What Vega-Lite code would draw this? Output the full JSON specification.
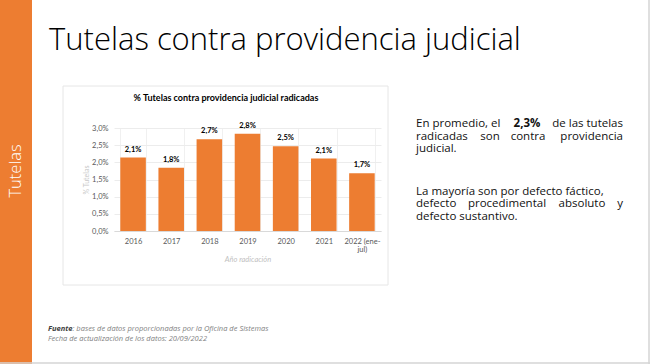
{
  "$schema": "https://vega.github.io/schema/vega-lite/v6.json",
  "width": 267,
  "height": 103,
  "autosize": {"type": "none"},
  "padding": {"left": 114, "top": 128, "right": 269, "bottom": 133},
  "background": "white",
  "config": {
    "view": {"stroke": null},
    "font": "Lato",
    "axisX": {
      "titleFontStyle": "italic", "titleFontWeight": "normal", "titleColor": "#bfbfbf", "titleFontSize": 7.5, "titlePadding": 3,
      "labelAngle": 0, "labelFontSize": 7.5, "labelColor": "#595959", "labelPadding": 6, "labelLineHeight": 8,
      "ticks": false, "domainColor": "#d9d9d9", "grid": true, "gridColor": "#f0f0f0", "tickBand": "extent"
    },
    "axisY": {
      "titleFontWeight": "normal", "titleColor": "#c8c8c8", "titleFontSize": 7, "titlePadding": 2,
      "labelOverlap": false, "labelFontSize": 7.5, "labelColor": "#595959", "labelPadding": 6,
      "ticks": false, "domain": false, "grid": true, "gridColor": "#ececec"
    }
  },
  "datasets": {
    "tutelas": [
      {"anio": "2016", "pct": 2.14, "label": "2,1%"},
      {"anio": "2017", "pct": 1.84, "label": "1,8%"},
      {"anio": "2018", "pct": 2.67, "label": "2,7%"},
      {"anio": "2019", "pct": 2.83, "label": "2,8%"},
      {"anio": "2020", "pct": 2.47, "label": "2,5%"},
      {"anio": "2021", "pct": 2.11, "label": "2,1%"},
      {"anio": "2022 (ene-jul)", "pct": 1.68, "label": "1,7%"}
    ],
    "one": [{}]
  },
  "layer": [
    {
      "data": {"name": "one"},
      "mark": {"type": "rect", "color": "#ED7D31", "clip": false},
      "encoding": {"x": {"value": -114}, "x2": {"value": -82}, "y": {"value": -128}, "y2": {"value": 236}}
    },
    {
      "data": {"name": "one"},
      "mark": {"type": "rule", "color": "#d4d4d4", "strokeWidth": 1.5},
      "encoding": {"x": {"value": 535}, "y": {"value": -128}, "y2": {"value": 236}}
    },
    {
      "data": {"name": "one"},
      "mark": {"type": "rule", "color": "#d4d4d4", "strokeWidth": 1.5},
      "encoding": {"x": {"value": -114}, "x2": {"value": 536}, "y": {"value": 235}}
    },
    {
      "data": {"name": "one"},
      "mark": {"type": "text", "text": "Tutelas", "color": "white", "font": "Open Sans", "fontSize": 16.5, "fontWeight": 300, "angle": 270, "align": "center", "baseline": "middle"},
      "encoding": {"x": {"value": -98}, "y": {"value": 43}}
    },
    {
      "data": {"name": "one"},
      "mark": {"type": "text", "text": "Tutelas contra providencia judicial", "color": "#000000", "font": "Open Sans", "fontSize": 31, "fontWeight": 300, "align": "left", "baseline": "alphabetic"},
      "encoding": {"x": {"value": -65}, "y": {"value": -78}}
    },
    {
      "data": {"name": "one"},
      "mark": {"type": "rect", "filled": false, "stroke": "#e6e6e6", "strokeWidth": 1},
      "encoding": {"x": {"value": -51}, "x2": {"value": 274}, "y": {"value": -42}, "y2": {"value": 157}}
    },
    {
      "data": {"name": "one"},
      "mark": {"type": "text", "text": "% Tutelas contra providencia judicial radicadas", "color": "#000000", "fontSize": 9, "fontWeight": "bold", "align": "center", "baseline": "middle"},
      "encoding": {"x": {"value": 112}, "y": {"value": -30}}
    },
    {
      "data": {"name": "tutelas"},
      "mark": {"type": "bar", "color": "#ED7D31"},
      "encoding": {
        "x": {
          "field": "anio", "type": "nominal", "sort": null,
          "scale": {"paddingInner": 0.33, "paddingOuter": 0.165},
          "axis": {"title": "Año radicación", "labelExpr": "datum.value == '2022 (ene-jul)' ? ['2022 (ene-', 'jul)'] : datum.label"}
        },
        "y": {
          "field": "pct", "type": "quantitative",
          "scale": {"domain": [0, 3], "nice": false},
          "axis": {"title": "% Tutelas", "tickCount": 6, "labelExpr": "replace(format(datum.value, '.1f'), '.', ',') + '%'"}
        }
      }
    },
    {
      "data": {"name": "tutelas"},
      "mark": {"type": "text", "fontSize": 7.5, "fontWeight": "bold", "color": "#000000", "baseline": "alphabetic", "dy": -6},
      "encoding": {
        "x": {
          "field": "anio", "type": "nominal", "sort": null,
          "axis": {"title": "Año radicación", "labelExpr": "datum.value == '2022 (ene-jul)' ? ['2022 (ene-', 'jul)'] : datum.label"}
        },
        "y": {
          "field": "pct", "type": "quantitative",
          "axis": {"title": "% Tutelas", "tickCount": 6, "labelExpr": "replace(format(datum.value, '.1f'), '.', ',') + '%'"}
        },
        "text": {"field": "label"}
      }
    },
    {"data": {"name": "one"}, "mark": {"type": "text", "text": "En promedio, el", "font": "Open Sans", "fontSize": 11.5, "color": "#111111", "align": "left"}, "encoding": {"x": {"value": 302}, "y": {"value": -4}}},
    {"data": {"name": "one"}, "mark": {"type": "text", "text": "2,3%", "font": "Open Sans", "fontSize": 11.5, "fontWeight": "bold", "color": "#111111", "align": "center"}, "encoding": {"x": {"value": 413}, "y": {"value": -4}}},
    {"data": {"name": "one"}, "mark": {"type": "text", "text": "de las tutelas", "font": "Open Sans", "fontSize": 11.5, "color": "#111111", "align": "right"}, "encoding": {"x": {"value": 509}, "y": {"value": -4}}},
    {"data": {"name": "one"}, "mark": {"type": "text", "text": "radicadas", "font": "Open Sans", "fontSize": 11.5, "color": "#111111", "align": "left"}, "encoding": {"x": {"value": 302}, "y": {"value": 9}}},
    {"data": {"name": "one"}, "mark": {"type": "text", "text": "son", "font": "Open Sans", "fontSize": 11.5, "color": "#111111", "align": "center"}, "encoding": {"x": {"value": 376}, "y": {"value": 9}}},
    {"data": {"name": "one"}, "mark": {"type": "text", "text": "contra", "font": "Open Sans", "fontSize": 11.5, "color": "#111111", "align": "center"}, "encoding": {"x": {"value": 414}, "y": {"value": 9}}},
    {"data": {"name": "one"}, "mark": {"type": "text", "text": "providencia", "font": "Open Sans", "fontSize": 11.5, "color": "#111111", "align": "right"}, "encoding": {"x": {"value": 509}, "y": {"value": 9}}},
    {"data": {"name": "one"}, "mark": {"type": "text", "text": "judicial.", "font": "Open Sans", "fontSize": 11.5, "color": "#111111", "align": "left"}, "encoding": {"x": {"value": 302}, "y": {"value": 21}}},
    {"data": {"name": "one"}, "mark": {"type": "text", "text": "La mayoría son por defecto fáctico,", "font": "Open Sans", "fontSize": 11.5, "color": "#111111", "align": "left"}, "encoding": {"x": {"value": 302}, "y": {"value": 64}}},
    {"data": {"name": "one"}, "mark": {"type": "text", "text": "defecto", "font": "Open Sans", "fontSize": 11.5, "color": "#111111", "align": "left"}, "encoding": {"x": {"value": 302}, "y": {"value": 76}}},
    {"data": {"name": "one"}, "mark": {"type": "text", "text": "procedimental", "font": "Open Sans", "fontSize": 11.5, "color": "#111111", "align": "center"}, "encoding": {"x": {"value": 393}, "y": {"value": 76}}},
    {"data": {"name": "one"}, "mark": {"type": "text", "text": "absoluto", "font": "Open Sans", "fontSize": 11.5, "color": "#111111", "align": "center"}, "encoding": {"x": {"value": 468}, "y": {"value": 76}}},
    {"data": {"name": "one"}, "mark": {"type": "text", "text": "y", "font": "Open Sans", "fontSize": 11.5, "color": "#111111", "align": "right"}, "encoding": {"x": {"value": 509}, "y": {"value": 76}}},
    {"data": {"name": "one"}, "mark": {"type": "text", "text": "defecto sustantivo.", "font": "Open Sans", "fontSize": 11.5, "color": "#111111", "align": "left"}, "encoding": {"x": {"value": 302}, "y": {"value": 89}}},
    {"data": {"name": "one"}, "mark": {"type": "text", "text": "Fuente", "font": "Open Sans", "fontSize": 7.5, "fontWeight": "bold", "fontStyle": "italic", "color": "#404040", "align": "left"}, "encoding": {"x": {"value": -66}, "y": {"value": 201}}},
    {"data": {"name": "one"}, "mark": {"type": "text", "text": ": bases de datos proporcionadas por la Oficina de Sistemas", "font": "Open Sans", "fontSize": 7.5, "fontStyle": "italic", "color": "#7f7f7f", "align": "left"}, "encoding": {"x": {"value": -41.5}, "y": {"value": 201}}},
    {"data": {"name": "one"}, "mark": {"type": "text", "text": "Fecha de actualización de los datos: 20/09/2022", "font": "Open Sans", "fontSize": 7.5, "fontStyle": "italic", "color": "#7f7f7f", "align": "left"}, "encoding": {"x": {"value": -66}, "y": {"value": 211}}}
  ]
}
